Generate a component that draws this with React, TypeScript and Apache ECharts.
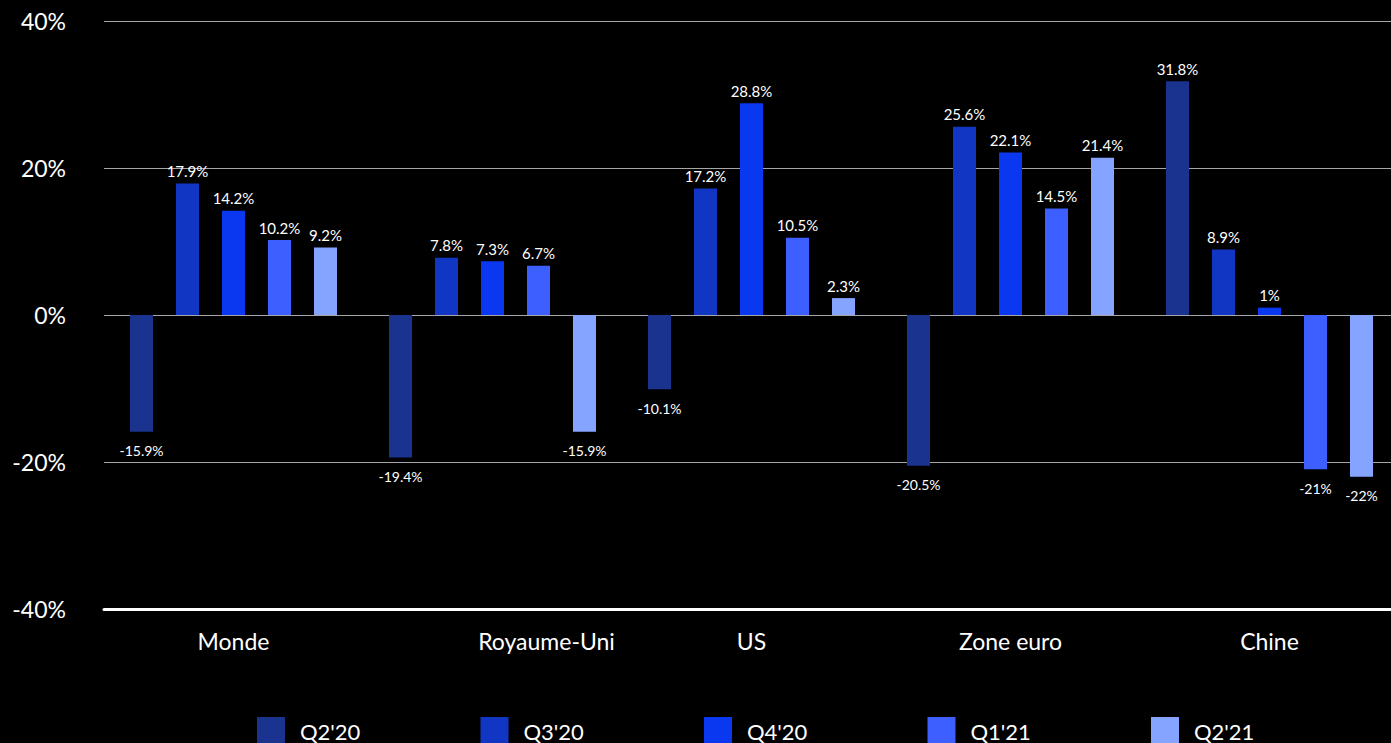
import React, { useEffect, useRef } from "react";
import * as echarts from "echarts";

const CATEGORIES = ["Monde", "Royaume-Uni", "US", "Zone euro", "Chine"];
const SERIES_NAMES = ["Q2'20", "Q3'20", "Q4'20", "Q1'21", "Q2'21"];
const Q2_20 = [-15.9, -19.4, -10.1, -20.5, 31.8];
const Q3_20 = [17.9, 7.8, 17.2, 25.6, 8.9];
const Q4_20 = [14.2, 7.3, 28.8, 22.1, 1];
const Q1_21 = [10.2, 6.7, 10.5, 14.5, -21];
const Q2_21 = [9.2, -15.9, 2.3, 21.4, -22];
const SERIES_VALUES = [Q2_20, Q3_20, Q4_20, Q1_21, Q2_21];
const COLORS = ["#1a338f", "#1236c4", "#0a37f0", "#3d5fff", "#85a4ff"];
const Y_MIN = -40;
const Y_MAX = 40;
const Y_INTERVAL = 20;

const FONT = "Lato, 'Noto Sans', sans-serif";

export default function App() {
  const ref = useRef<HTMLDivElement>(null);

  useEffect(() => {
    if (!ref.current) return;
    const chart = echarts.init(ref.current, null, { renderer: "svg" });

    const series = SERIES_NAMES.map((name, i) => ({
      name,
      type: "bar",
      barWidth: 23,
      barGap: "100%",
      itemStyle: { color: COLORS[i] },
      data: SERIES_VALUES[i].map((v) => ({
        value: v,
        label: {
          show: true,
          position: v < 0 ? "bottom" : "top",
          distance: v < 0 ? 12 : 5,
          color: "#ffffff",
          fontFamily: FONT,
          fontSize: v < 0 ? 14 : 15,
          formatter: `${v}%`,
        },
      })),
    }));

    const legends = SERIES_NAMES.map((name, i) => ({
      data: [name],
      left: 252 + i * 223.5,
      top: 712,
      itemWidth: 28,
      itemHeight: 28,
      icon: "rect",
      textStyle: {
        color: "#ffffff",
        fontFamily: FONT,
        fontSize: 22,
        padding: [0, 0, 0, 10],
      },
    }));

    chart.setOption({
      animation: false,
      backgroundColor: "#000000",
      legend: legends,
      grid: { left: 104, right: 0, top: 21, bottom: 134, containLabel: false },
      xAxis: {
        type: "category",
        data: CATEGORIES,
        axisLine: { onZero: false, lineStyle: { color: "#ffffff", width: 3 } },
        axisTick: { show: false },
        axisLabel: {
          color: "#ffffff",
          fontFamily: FONT,
          fontSize: 23,
          margin: 20,
          formatter: (v: string) => (v === "Royaume-Uni" ? `{off|${v}}` : v),
          rich: {
            off: {
              color: "#ffffff",
              fontFamily: FONT,
              fontSize: 23,
              padding: [0, 0, 0, 108],
            },
          },
        },
      },
      yAxis: {
        type: "value",
        min: Y_MIN,
        max: Y_MAX,
        interval: Y_INTERVAL,
        axisLine: { show: false },
        axisTick: { show: false },
        splitLine: { lineStyle: { color: "#a6a6a6", width: 1.2 } },
        axisLabel: {
          color: "#ffffff",
          fontFamily: FONT,
          fontSize: 23,
          margin: 38,
          formatter: "{value}%",
        },
      },
      series,
    });

    return () => chart.dispose();
  }, []);

  return (
    <div
      style={{
        position: "fixed",
        left: 0,
        top: 0,
        width: 1391,
        height: 743,
        overflow: "hidden",
        background: "#000",
      }}
    >
      <div ref={ref} style={{ width: 1399, height: 743 }} />
    </div>
  );
}
